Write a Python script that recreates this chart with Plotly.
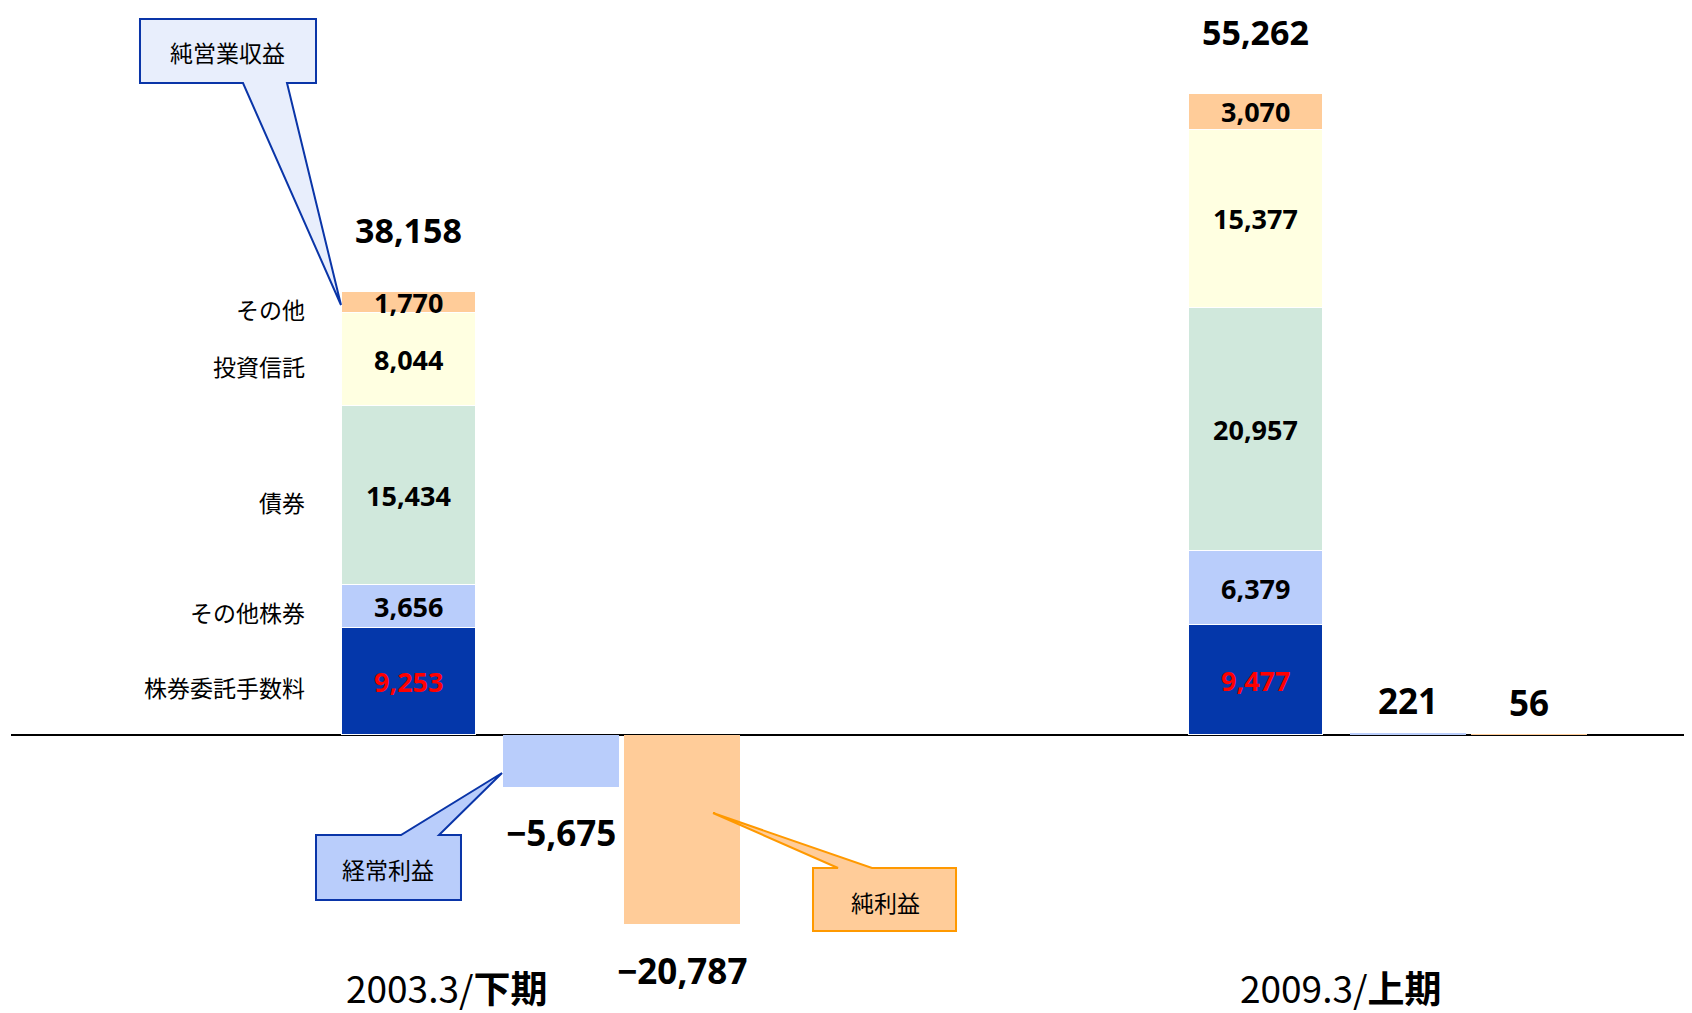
import plotly.graph_objects as go

# ---------------- data ----------------
PERIOD_YEAR = ["2003.3/", "2009.3/"]
PERIOD_HALF = ["下期", "上期"]
CATEGORIES = ["株券委託手数料", "その他株券", "債券", "投資信託", "その他"]
SEG_2003 = [9253, 3656, 15434, 8044, 1770]
SEG_2009 = [9477, 6379, 20957, 15377, 3070]
TOTALS = [38158, 55262]
KEIJO = [-5675, 221]        # 経常利益
JUNRIEKI = [-20787, 56]     # 純利益

# ---------------- style ----------------
PAGE_W, PAGE_H = 1692, 1013
OFF = 8                      # default page body margin
W, H = PAGE_W - OFF, PAGE_H - OFF
SEG_COLORS = ["#0437AA", "#B9CDFB", "#D0E8DC", "#FFFFE1", "#FFCC99"]
KEIJO_COLOR = "#B9CDFB"
JUN_COLOR = "#FFCC99"
NUM_FONT = "Noto Sans"
JP_FONT = "Noto Sans CJK JP"
STACK_W = 0.158
PROFIT_W = 0.137
KEIJO_DX = 0.18
JUN_DX = 0.322
LABEL_DX = [0.044, 0.10]
X_RANGE = [-0.4734, 1.5148]
Y_RANGE = [-23966, 62672]
Y2_RANGE = [-30549, 79890]

periods = [0, 1]
segs = [SEG_2003, SEG_2009]

fig = go.Figure()

# stacked revenue bars
for i, cat in enumerate(CATEGORIES):
    fig.add_trace(go.Bar(
        x=periods, y=[segs[p][i] for p in periods], name=cat,
        width=STACK_W, marker=dict(color=SEG_COLORS[i], line=dict(color="white", width=1.5)),
        showlegend=False, hoverinfo="skip",
    ))

# profit bars on secondary axis
fig.add_trace(go.Bar(
    x=[p + KEIJO_DX for p in periods], y=KEIJO, name="経常利益", yaxis="y2",
    width=PROFIT_W, marker=dict(color=KEIJO_COLOR, line=dict(width=0)),
    showlegend=False, hoverinfo="skip",
))
fig.add_trace(go.Bar(
    x=[p + JUN_DX for p in periods], y=JUNRIEKI, name="純利益", yaxis="y2",
    width=PROFIT_W, marker=dict(color=JUN_COLOR, line=dict(width=0)),
    showlegend=False, hoverinfo="skip",
))

ann = []
# segment labels + totals
for p in periods:
    cum = 0
    for i, v in enumerate(segs[p]):
        mid = cum + v / 2
        cum += v
        ann.append(dict(x=p, y=mid, xref="x", yref="y", showarrow=False,
                        text=f"<b>{v:,}</b>",
                        font=dict(family=NUM_FONT, size=27,
                                  color="#FF0000" if i == 0 else "black")))
        if p == 0:
            ann.append(dict(x=-0.12, y=mid, xref="x", yref="y", showarrow=False,
                            xanchor="right", yshift=-6, text=CATEGORIES[i],
                            font=dict(family=JP_FONT, size=23, color="black")))
    ann.append(dict(x=p, y=TOTALS[p], xref="x", yref="y", showarrow=False,
                    yshift=62, borderpad=0, text=f"<b>{TOTALS[p]:,}</b>",
                    font=dict(family=NUM_FONT, size=34, color="black")))

def fmt(v):
    return ("−" if v < 0 else "") + f"{abs(v):,}"

for vals, dx in ((KEIJO, KEIJO_DX), (JUNRIEKI, JUN_DX)):
    for p in periods:
        v = vals[p]
        ann.append(dict(x=p + dx, y=v, xref="x", yref="y2", showarrow=False,
                        yshift=-46 if v < 0 else 32, text=f"<b>{fmt(v)}</b>",
                        font=dict(family=NUM_FONT, size=35, color="black")))

def pxx(x):
    return (x - OFF) / W

def pxy(y):
    return 1 - (y - OFF) / H

# period labels
for p in periods:
    ann.append(dict(x=p + LABEL_DX[p], y=pxy(987), xref="x", yref="paper",
                    xanchor="center", yanchor="middle", showarrow=False,
                    text=f"{PERIOD_YEAR[p]}<b>{PERIOD_HALF[p]}</b>",
                    font=dict(family=JP_FONT, size=37, color="black")))

# callouts (page-pixel geometry)
def path(pts):
    return "M" + " L".join(f"{pxx(x):.5f},{pxy(y):.5f}" for x, y in pts) + " Z"

callouts = [
    ("純営業収益", [(140, 19), (316, 19), (316, 83), (287, 83), (341, 305), (243, 83), (140, 83)],
     "#E8EEFC", "#0A35A8", (228, 52)),
    ("経常利益", [(316, 835), (401, 835), (502, 773), (439, 835), (461, 835), (461, 900), (316, 900)],
     KEIJO_COLOR, "#0A35A8", (388, 869)),
    ("純利益", [(813, 868), (838, 868), (713, 813), (872, 868), (956, 868), (956, 931), (813, 931)],
     JUN_COLOR, "#FF9900", (885, 902)),
]
shapes = []
for text, pts, fill, line, (tx, ty) in callouts:
    shapes.append(dict(type="path", xref="paper", yref="paper", path=path(pts),
                       fillcolor=fill, line=dict(color=line, width=2), layer="above"))
    ann.append(dict(x=pxx(tx), y=pxy(ty), xref="paper", yref="paper", showarrow=False,
                    xanchor="center", yanchor="middle",
                    text=text, font=dict(family=JP_FONT, size=23, color="black")))

# baseline
shapes.append(dict(type="line", xref="paper", yref="y", x0=pxx(11), x1=1, y0=0, y1=0,
                   line=dict(color="black", width=2), layer="below"))

fig.update_layout(
    width=W, height=H, margin=dict(l=0, r=0, t=0, b=0),
    paper_bgcolor="white", plot_bgcolor="white",
    barmode="stack", bargap=0,
    xaxis=dict(range=X_RANGE, visible=False, fixedrange=True),
    yaxis=dict(range=Y_RANGE, visible=False, fixedrange=True),
    yaxis2=dict(range=Y2_RANGE, visible=False, overlaying="y", fixedrange=True),
    annotations=ann, shapes=shapes,
)

fig.write_html("out.html", config={"displayModeBar": False})
